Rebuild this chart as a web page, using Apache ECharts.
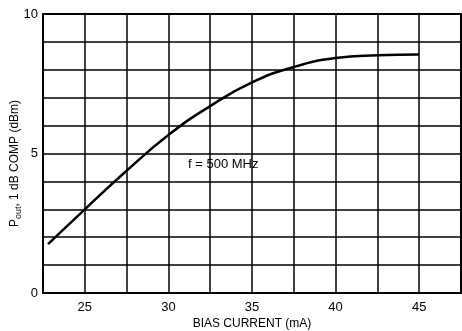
<!DOCTYPE html>
<html>
<head>
<meta charset="utf-8">
<script src="https://cdn.jsdelivr.net/npm/echarts@6/dist/echarts.min.js"></script>
<style>html,body{margin:0;padding:0;background:#fff}#c{width:462px;height:331px}</style>
</head>
<body>
<div id="c"></div>
<script>
const biasCurrent = [22.8, 25, 27.5, 30, 32.5, 35, 37.5, 40, 42.5, 45];
const poutValues  = [1.75, 3.0, 4.38, 5.66, 6.7, 7.55, 8.1, 8.42, 8.52, 8.55];
const xTickLabels = [25, 30, 35, 40, 45];
const yTickLabels = [0, 5, 10];

const FONT = '"Liberation Sans Narrow", "Liberation Sans", Arial, sans-serif';
const chart = echarts.init(document.getElementById('c'));
chart.setOption({
  animation: false,
  backgroundColor: '#fff',
  grid: { left: 43, right: 1, top: 14, bottom: 38, show: true, borderColor: '#000', borderWidth: 2,
          containLabel: false, outerBoundsMode: 'none' },
  xAxis: {
    type: 'value', min: 22.5, max: 47.5, interval: 2.5,
    name: 'BIAS CURRENT (mA)', nameLocation: 'middle', nameGap: 25, nameMoveOverlap: false,
    nameTextStyle: { color: '#000', fontSize: 12, fontFamily: FONT },
    axisLine: { show: true, lineStyle: { color: '#000', width: 2 } },
    axisTick: { show: false },
    axisLabel: { color: '#000', fontSize: 13, fontFamily: FONT, margin: 8,
      formatter: v => xTickLabels.includes(v) ? String(v) : '' },
    splitLine: { show: true, lineStyle: { color: '#000', width: 1.5 } }
  },
  yAxis: {
    type: 'value', min: 0, max: 10, interval: 1,
    name: '{a|P}{b|out}{a|, 1 dB COMP (dBm)}', nameLocation: 'middle', nameGap: 20, nameMoveOverlap: false,
    nameTextStyle: { color: '#000', fontSize: 12, fontFamily: FONT, padding: [0, 20, 0, 0],
      rich: { a: { fontSize: 12, fontFamily: FONT, color: '#000', lineHeight: 16 },
              b: { fontSize: 9, fontFamily: FONT, color: '#000', verticalAlign: 'bottom', lineHeight: 10 } } },
    axisLine: { show: true, lineStyle: { color: '#000', width: 2 } },
    axisTick: { show: false },
    axisLabel: { color: '#000', fontSize: 13, fontFamily: FONT, margin: 5,
      formatter: v => yTickLabels.includes(v) ? String(v) : '' },
    splitLine: { show: true, lineStyle: { color: '#000', width: 1.5 } }
  },
  graphic: [{
    type: 'text', left: 188, top: 158,
    style: { text: 'f = 500 MHz', fill: '#000', font: '13px ' + FONT }
  }],
  series: [{
    type: 'line', smooth: 0.5, showSymbol: false,
    data: biasCurrent.map((x, i) => [x, poutValues[i]]),
    lineStyle: { color: '#000', width: 2.5 }
  }]
});
</script>
</body>
</html>
